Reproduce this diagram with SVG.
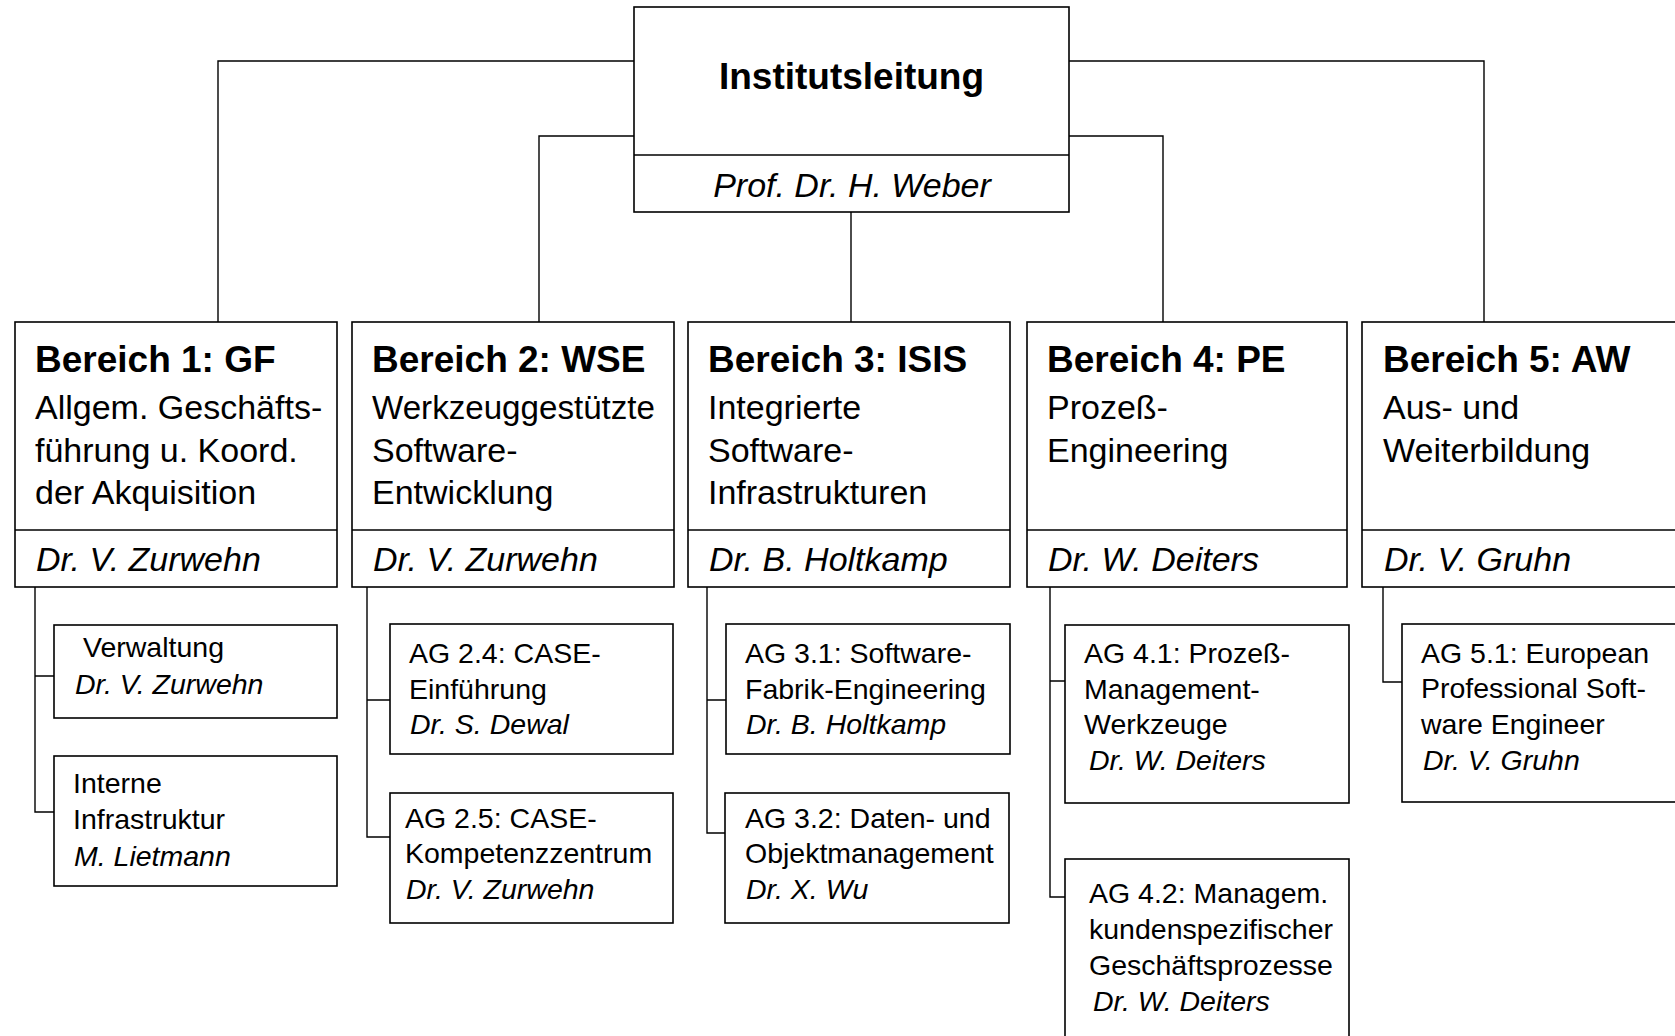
<svg xmlns="http://www.w3.org/2000/svg" width="1675" height="1036" viewBox="0 0 1675 1036">
<style>
.box{fill:#fff;stroke:#000;stroke-width:1.6}
.div{fill:none;stroke:#000;stroke-width:1.6}
.conn{fill:none;stroke:#000;stroke-width:1.4}
text{font-family:"Liberation Sans",Arial,sans-serif;fill:#000}
.tb{font-size:37px;font-weight:bold}
.tr{font-size:34px}
.ti{font-size:34px;font-style:italic}
.sr{font-size:28.5px}
.si{font-size:28.5px;font-style:italic}
</style>
<rect width="1675" height="1036" fill="#fff"/>
<g id="connectors">
<path class="conn" d="M634,61 H218 V322"/>
<path class="conn" d="M634,136 H539 V322"/>
<path class="conn" d="M851,212 V322"/>
<path class="conn" d="M1069,136 H1163 V322"/>
<path class="conn" d="M1069,61 H1484 V322"/>
<path class="conn" d="M35,587 V812 H54 M35,676 H54"/>
<path class="conn" d="M367,587 V837 H390 M367,700 H390"/>
<path class="conn" d="M707,587 V833 H725 M707,700 H726"/>
<path class="conn" d="M1050,587 V897 H1065 M1050,681 H1065"/>
<path class="conn" d="M1383,587 V682 H1402"/>
</g>
<g id="institutsleitung">
<rect class="box" x="634" y="7" width="435" height="205"/>
<line class="div" x1="634" y1="155" x2="1069" y2="155"/>
<text class="tb" x="851.5" y="89" text-anchor="middle">Institutsleitung</text>
<text class="ti" x="852" y="197" text-anchor="middle">Prof. Dr. H. Weber</text>
</g>
<g id="bereich1">
<rect class="box" x="15" y="322" width="322" height="265"/>
<line class="div" x1="15" y1="530" x2="337" y2="530"/>
<text class="tb" x="35" y="372">Bereich 1: GF</text>
<text class="tr" x="35" y="419">Allgem. Geschäfts-</text>
<text class="tr" x="35" y="462">führung u. Koord.</text>
<text class="tr" x="35" y="504">der Akquisition</text>
<text class="ti" x="36" y="571">Dr. V. Zurwehn</text>
</g>
<g id="bereich2">
<rect class="box" x="352" y="322" width="322" height="265"/>
<line class="div" x1="352" y1="530" x2="674" y2="530"/>
<text class="tb" x="372" y="372">Bereich 2: WSE</text>
<text class="tr" x="372" y="419" textLength="283" lengthAdjust="spacingAndGlyphs">Werkzeuggestützte</text>
<text class="tr" x="372" y="462">Software-</text>
<text class="tr" x="372" y="504">Entwicklung</text>
<text class="ti" x="373" y="571">Dr. V. Zurwehn</text>
</g>
<g id="bereich3">
<rect class="box" x="688" y="322" width="322" height="265"/>
<line class="div" x1="688" y1="530" x2="1010" y2="530"/>
<text class="tb" x="708" y="372">Bereich 3: ISIS</text>
<text class="tr" x="708" y="419">Integrierte</text>
<text class="tr" x="708" y="462">Software-</text>
<text class="tr" x="708" y="504">Infrastrukturen</text>
<text class="ti" x="709" y="571">Dr. B. Holtkamp</text>
</g>
<g id="bereich4">
<rect class="box" x="1027" y="322" width="320" height="265"/>
<line class="div" x1="1027" y1="530" x2="1347" y2="530"/>
<text class="tb" x="1047" y="372">Bereich 4: PE</text>
<text class="tr" x="1047" y="419">Prozeß-</text>
<text class="tr" x="1047" y="462">Engineering</text>
<text class="ti" x="1048" y="571">Dr. W. Deiters</text>
</g>
<g id="bereich5">
<rect class="box" x="1362" y="322" width="322" height="265"/>
<line class="div" x1="1362" y1="530" x2="1684" y2="530"/>
<text class="tb" x="1383" y="372">Bereich 5: AW</text>
<text class="tr" x="1383" y="419">Aus- und</text>
<text class="tr" x="1383" y="462">Weiterbildung</text>
<text class="ti" x="1384" y="571">Dr. V. Gruhn</text>
</g>
<g id="verwaltung">
<rect class="box" x="54" y="625" width="283" height="93"/>
<text class="sr" x="83" y="657">Verwaltung</text>
<text class="si" x="75" y="694">Dr. V. Zurwehn</text>
</g>
<g id="interne-infrastruktur">
<rect class="box" x="54" y="756" width="283" height="130"/>
<text class="sr" x="73" y="793">Interne</text>
<text class="sr" x="73" y="829">Infrastruktur</text>
<text class="si" x="74" y="866">M. Lietmann</text>
</g>
<g id="ag24">
<rect class="box" x="390" y="624" width="283" height="130"/>
<text class="sr" x="409" y="663">AG 2.4: CASE-</text>
<text class="sr" x="409" y="699">Einführung</text>
<text class="si" x="410" y="734">Dr. S. Dewal</text>
</g>
<g id="ag25">
<rect class="box" x="390" y="793" width="283" height="130"/>
<text class="sr" x="405" y="828">AG 2.5: CASE-</text>
<text class="sr" x="405" y="863">Kompetenzzentrum</text>
<text class="si" x="406" y="899">Dr. V. Zurwehn</text>
</g>
<g id="ag31">
<rect class="box" x="726" y="624" width="284" height="130"/>
<text class="sr" x="745" y="663">AG 3.1: Software-</text>
<text class="sr" x="745" y="699">Fabrik-Engineering</text>
<text class="si" x="746" y="734">Dr. B. Holtkamp</text>
</g>
<g id="ag32">
<rect class="box" x="725" y="793" width="284" height="130"/>
<text class="sr" x="745" y="828">AG 3.2: Daten- und</text>
<text class="sr" x="745" y="863">Objektmanagement</text>
<text class="si" x="746" y="899">Dr. X. Wu</text>
</g>
<g id="ag41">
<rect class="box" x="1065" y="625" width="284" height="178"/>
<text class="sr" x="1084" y="663">AG 4.1: Prozeß-</text>
<text class="sr" x="1084" y="699">Management-</text>
<text class="sr" x="1084" y="734">Werkzeuge</text>
<text class="si" x="1089" y="770">Dr. W. Deiters</text>
</g>
<g id="ag42">
<rect class="box" x="1065" y="859" width="284" height="190"/>
<text class="sr" x="1089" y="903">AG 4.2: Managem.</text>
<text class="sr" x="1089" y="939">kundenspezifischer</text>
<text class="sr" x="1089" y="975">Geschäftsprozesse</text>
<text class="si" x="1093" y="1011">Dr. W. Deiters</text>
</g>
<g id="ag51">
<rect class="box" x="1402" y="624" width="290" height="178"/>
<text class="sr" x="1421" y="663">AG 5.1: European</text>
<text class="sr" x="1421" y="698">Professional Soft-</text>
<text class="sr" x="1421" y="734">ware Engineer</text>
<text class="si" x="1423" y="770">Dr. V. Gruhn</text>
</g>
</svg>
